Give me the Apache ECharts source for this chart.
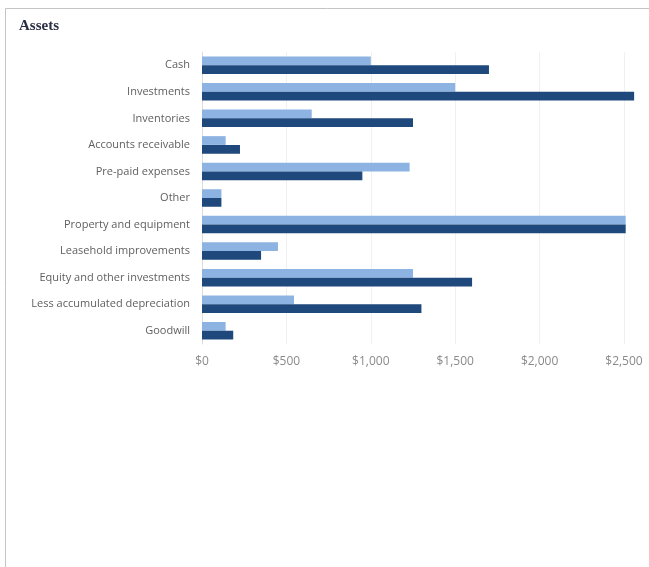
<!DOCTYPE html>
<html>
<head>
<meta charset="utf-8">
<script src="https://cdn.jsdelivr.net/npm/echarts@6/dist/echarts.min.js"></script>
<style>
html,body{margin:0;padding:0;background:#fff;}
#c{width:649px;height:567px;}
</style>
</head>
<body>
<div id="c"></div>
<script>
const categories = ['Cash','Investments','Inventories','Accounts receivable','Pre-paid expenses','Other','Property and equipment','Leasehold improvements','Equity and other investments','Less accumulated depreciation','Goodwill'];
const seriesLight = [1000,1500,650,140,1230,115,2510,450,1250,545,140];
const seriesDark = [1700,2560,1250,225,950,115,2510,350,1600,1300,185];
const xTicks = [0,500,1000,1500,2000,2500];

const chart = echarts.init(document.getElementById('c'), null, {renderer:'canvas'});
chart.setOption({
  animation:false,
  backgroundColor:'#ffffff',
  title:{
    text:'Assets', left:14, top:14,
    textStyle:{fontFamily:'Liberation Serif', fontWeight:'bold', fontSize:15, color:'#2b2f45'}
  },
  graphic:[
    {type:'line', shape:{x1:5.5,y1:8.5,x2:649,y2:8.5}, style:{stroke:'#c4c4c4',lineWidth:1}},
    {type:'line', shape:{x1:5.5,y1:8.5,x2:5.5,y2:567}, style:{stroke:'#c4c4c4',lineWidth:1}}
  ],
  grid:{left:202, right:25, top:52, bottom:223, containLabel:false},
  xAxis:{
    type:'value', min:xTicks[0], max:xTicks[xTicks.length-1], interval:500,
    axisLine:{show:false}, axisTick:{show:false},
    splitLine:{show:true, lineStyle:{color:'#f0f0f0', width:1}},
    axisLabel:{
      margin:12, color:'#8a8a8a', fontFamily:'Open Sans', fontSize:12,
      formatter:function(v){ return '$' + v.toLocaleString('en-US'); }
    }
  },
  yAxis:{
    type:'category', data:categories, inverse:true,
    axisLine:{show:true, lineStyle:{color:'#dcdcdc'}}, axisTick:{show:false},
    axisLabel:{margin:12, color:'#606060', fontFamily:'Open Sans', fontSize:11}
  },
  series:[
    {name:'Prior', type:'bar', data:seriesLight, barGap:'0%', barCategoryGap:'34%', clip:false,
     itemStyle:{color:'#8db3e2'}},
    {name:'Current', type:'bar', data:seriesDark, barGap:'0%', barCategoryGap:'34%', clip:false,
     itemStyle:{color:'#1f497d'}}
  ]
});
</script>
</body>
</html>
